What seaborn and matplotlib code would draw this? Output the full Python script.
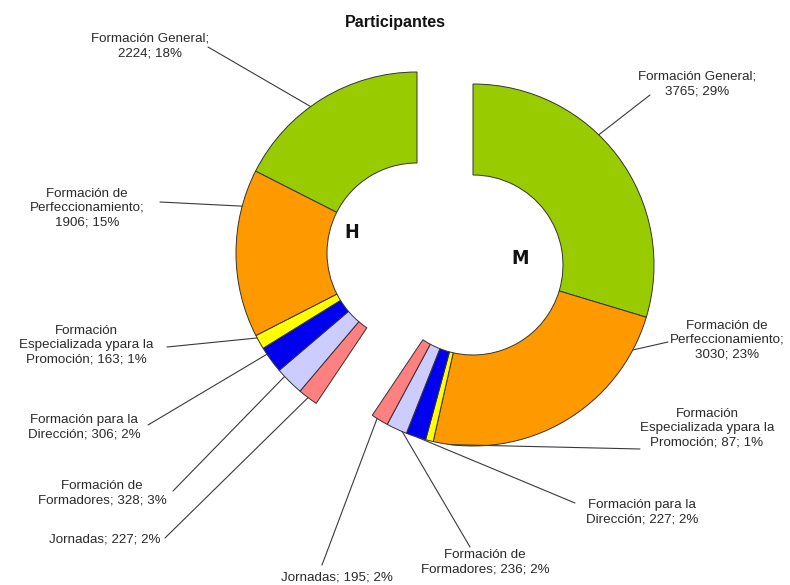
import numpy as np
import matplotlib
matplotlib.use('Agg')
import matplotlib.pyplot as plt
import seaborn as sns

# ── data ─────────────────────────────────────────────
categories = ['Formación General', 'Formación de Perfeccionamiento',
              'Formación Especializada ypara la Promoción',
              'Formación para la Dirección', 'Formación de Formadores', 'Jornadas']
h_vals = [2224, 1906, 163, 306, 328, 227]
m_vals = [3765, 3030, 87, 227, 236, 195]
h_pcts = [18, 15, 1, 2, 3, 2]
m_pcts = [29, 23, 1, 2, 2, 2]
group_names = ['H', 'M']

# label text as wrapped in the original
wrapped = ['Formación General;\n', 'Formación de\nPerfeccionamiento;\n',
           'Formación\nEspecializada ypara la\nPromoción; ',
           'Formación para la\nDirección; ', 'Formación de\nFormadores; ', 'Jornadas; ']

colors = sns.color_palette(['#99CC00', '#FF9900', '#FFFF00', '#0000F0', '#CCCCFF', '#FF8080'])

# ── layout (pixels, image coords) ─────────────────────
W, H = 790, 585
R, RING = 181, 91
m_center = (473, 265)
h_center = (417, 253)

# label centre, leader start, anchor angle on the ring (deg)
h_layout = [((150, 46), (208, 47), 126), ((87, 208), (160, 202), 165),
            ((86, 345), (167, 347), 208), ((84, 427), (148, 425), 214),
            ((102, 493), (173, 491), 223), ((105, 539), (165, 538), 233)]
m_layout = [((697, 84), (650, 95), 46), ((727, 340), (668, 342), -28),
            ((707, 428), (640, 449), -97), ((642, 512), (575, 503), -108),
            ((485, 562), (470, 547), -113), ((337, 577), (322, 565), -122)]


def Y(y):
    return H - y


sns.set_theme(style='white')
plt.rcParams['font.family'] = ['Liberation Sans', 'DejaVu Sans']

fig = plt.figure(figsize=(W / 100, H / 100), dpi=100)
ax = fig.add_axes([0, 0, 1, 1])

wp = dict(width=RING, edgecolor='#333333', linewidth=0.7)

# M ring: M slices first, H total hidden
m_w, _ = ax.pie(m_vals + [sum(h_vals)], colors=list(colors) + ['white'],
                startangle=90, counterclock=False, radius=R,
                center=(m_center[0], Y(m_center[1])), wedgeprops=wp)
m_w[-1].set_visible(False)

# H ring: M total hidden, then H slices in reverse order
h_explode = [0, 0.028, 0, 0, 0, 0, 0]
h_w, _ = ax.pie([sum(m_vals)] + h_vals[::-1], colors=['white'] + list(colors)[::-1],
                startangle=90, counterclock=False, radius=R, explode=h_explode,
                center=(h_center[0], Y(h_center[1])), wedgeprops=wp)
h_w[0].set_visible(False)


def draw_labels(vals, pcts, layout, center):
    cx, cy = center[0], Y(center[1])
    for name, v, p, (txt, start, ang) in zip(wrapped, vals, pcts, layout):
        a = np.deg2rad(ang)
        ex, ey = cx + R * np.cos(a), cy + R * np.sin(a)
        ax.plot([start[0], ex], [Y(start[1]), ey], color='#3a3a3a', lw=0.8)
        ax.text(txt[0], Y(txt[1]), f'{name}{v}; {p}%', ha='center', va='center',
                fontsize=9.6, linespacing=1.25, color='#2a2a2a')


draw_labels(h_vals, h_pcts, h_layout, h_center)
draw_labels(m_vals, m_pcts, m_layout, m_center)

for g, (gx, gy) in zip(group_names, [(352, 232), (520, 258)]):
    ax.text(gx, Y(gy), g, ha='center', va='center', fontsize=14,
            fontweight='bold', fontstretch='condensed', family='DejaVu Sans',
            color='#111111')

ax.text(395, Y(22), 'Participantes', ha='center', va='center', fontsize=11.5,
        fontweight='bold', color='#111111')

ax.set_xlim(0, W)
ax.set_ylim(0, H)
ax.set_aspect('equal')
ax.axis('off')

plt.savefig('out.png', dpi=100, facecolor='white')
plt.close()
